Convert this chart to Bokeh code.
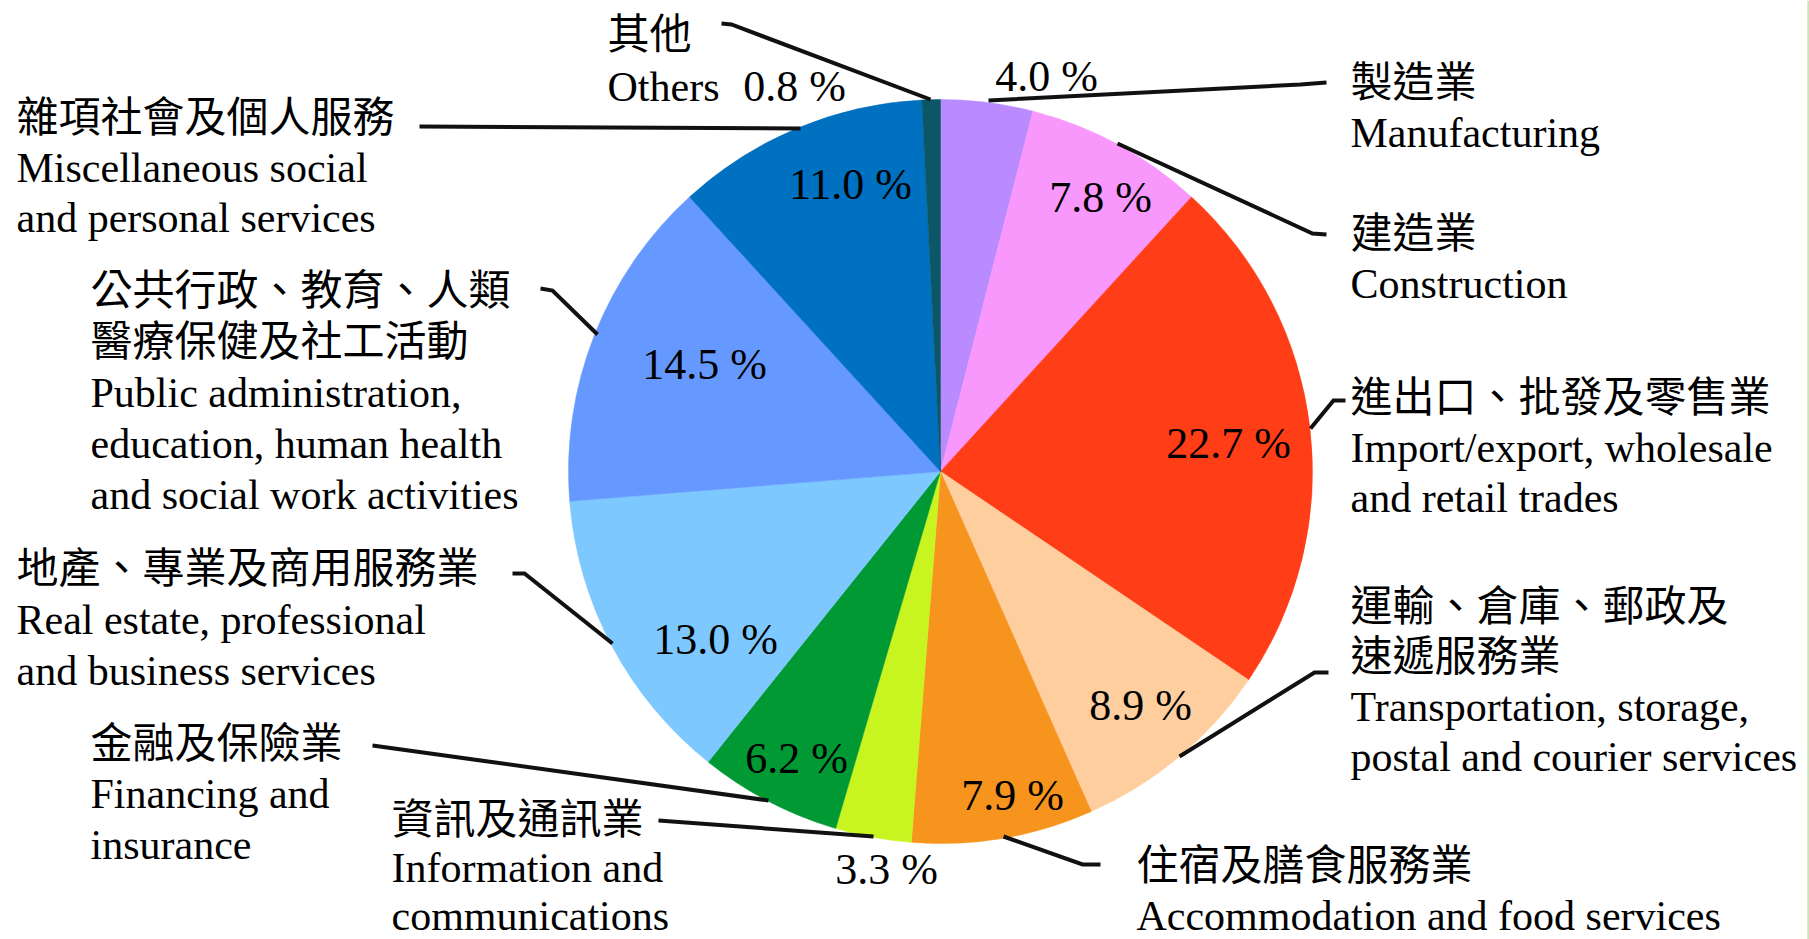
import math
from bokeh.plotting import figure
from bokeh.models import Range1d, ColumnDataSource
from bokeh.core.properties import value
from bokeh.embed import file_html
from bokeh.resources import INLINE

# ---------------- data ----------------
sectors_zh = [
    ["製造業"],
    ["建造業"],
    ["進出口、批發及零售業"],
    ["運輸、倉庫、郵政及", "速遞服務業"],
    ["住宿及膳食服務業"],
    ["資訊及通訊業"],
    ["金融及保險業"],
    ["地產、專業及商用服務業"],
    ["公共行政、教育、人類", "醫療保健及社工活動"],
    ["雜項社會及個人服務"],
    ["其他"],
]
sectors_en = [
    ["Manufacturing"],
    ["Construction"],
    ["Import/export, wholesale", "and retail trades"],
    ["Transportation, storage,", "postal and courier services"],
    ["Accommodation and food services"],
    ["Information and", "communications"],
    ["Financing and", "insurance"],
    ["Real estate, professional", "and business services"],
    ["Public administration,", "education, human health", "and social work activities"],
    ["Miscellaneous social", "and personal services"],
    ["Others"],
]
shares = [4.0, 7.8, 22.7, 8.9, 7.9, 3.3, 6.2, 13.0, 14.5, 11.0, 0.8]

# ---------------- styles / layout ----------------
palette = ["#B98BFF", "#F898FD", "#FF3D17", "#FFCE9F", "#F7941E", "#C8F520",
           "#009933", "#7CC8FF", "#6699FF", "#0070C0", "#0B5667"]

W, H = 1809, 939
def Y(y):  # reference pixel row -> data y
    return H - y

CX, CY, R = 940, 471, 372

# label block anchors: (x, y of first line, line step) in reference pixels
label_anchor = [
    (1350, 82, 50), (1350, 233, 50), (1350, 397, 50), (1350, 606, 50), (1136, 865, 50),
    (391, 819, 48), (90, 743, 50.5), (16, 568, 51), (90, 290, 51), (16, 117, 50), (607, 34, 52),
]
zh_dy = -4

# percentage label centres (reference pixels)
pct_pos = [
    (1046, 76), (1100, 197), (1228, 443), (1140, 705), (1012, 795),
    (886, 869), (796, 758), (715, 639), (704, 364), (850, 184), (794, 86),
]

# leader lines (reference pixels)
leaders = [
    [(988, 100), (1300, 84), (1326, 82)],
    [(1117, 143), (1312, 233), (1326, 234)],
    [(1310, 428), (1333, 400), (1345, 400)],
    [(1179, 756), (1314, 672), (1328, 672)],
    [(1003, 836), (1082, 864), (1100, 864)],
    [(658, 820), (873, 836)],
    [(372, 745), (768, 800)],
    [(512, 573), (524, 573), (612, 643)],
    [(540, 288), (552, 290), (597, 334)],
    [(419, 126), (800, 128)],
    [(721, 23), (731, 24), (930, 99)],
]

EN_FONT = "Liberation Serif"
ZH_FONT = "Noto Sans CJK TC"

# ---------------- figure ----------------
p = figure(width=W, height=H, x_range=Range1d(0, W), y_range=Range1d(0, H),
           output_backend="svg", toolbar_location=None, min_border=0)
p.axis.visible = False
p.grid.visible = False
p.outline_line_color = None
p.background_fill_color = "white"
p.border_fill_color = "white"

total = sum(shares)
starts, ends = [], []
cum = 0.0
for v in shares:
    a_hi = math.pi / 2 - 2 * math.pi * cum / total
    cum += v
    a_lo = math.pi / 2 - 2 * math.pi * cum / total
    starts.append(a_lo)
    ends.append(a_hi)

src = ColumnDataSource(dict(start=starts, end=ends, color=palette))
p.wedge(x=CX, y=Y(CY), radius=R, start_angle="start", end_angle="end",
        fill_color="color", line_color="color", line_width=0.5, source=src)

# leader lines
p.multi_line(xs=[[pt[0] for pt in L] for L in leaders],
             ys=[[Y(pt[1]) for pt in L] for L in leaders],
             line_color="#111111", line_width=4, line_join="miter")

# thin frame edge at right
p.segment(x0=[1807.8], y0=[0], x1=[1807.8], y1=[H], line_color="#C6E6B4", line_width=2)

# labels
zx, zy, zt = [], [], []
ex, ey, et = [], [], []
for i, (ax, ay, step) in enumerate(label_anchor):
    k = 0
    for s in sectors_zh[i]:
        zx.append(ax); zy.append(Y(ay + k * step + zh_dy)); zt.append(s); k += 1
    for s in sectors_en[i]:
        ex.append(ax); ey.append(Y(ay + k * step)); et.append(s); k += 1

p.text(x=zx, y=zy, text=zt, text_font=value(ZH_FONT), text_font_size="42px",
       text_baseline="middle", text_align="left", text_color="black")
p.text(x=ex, y=ey, text=et, text_font=value(EN_FONT), text_font_size="42px",
       text_baseline="middle", text_align="left", text_color="black")

p.text(x=[q[0] for q in pct_pos], y=[Y(q[1]) for q in pct_pos],
       text=[f"{v:.1f} %" for v in shares], text_font=value(EN_FONT),
       text_font_size="44px", text_baseline="middle", text_align="center",
       text_color="black")

open("out.html", "w").write(file_html(p, INLINE))
